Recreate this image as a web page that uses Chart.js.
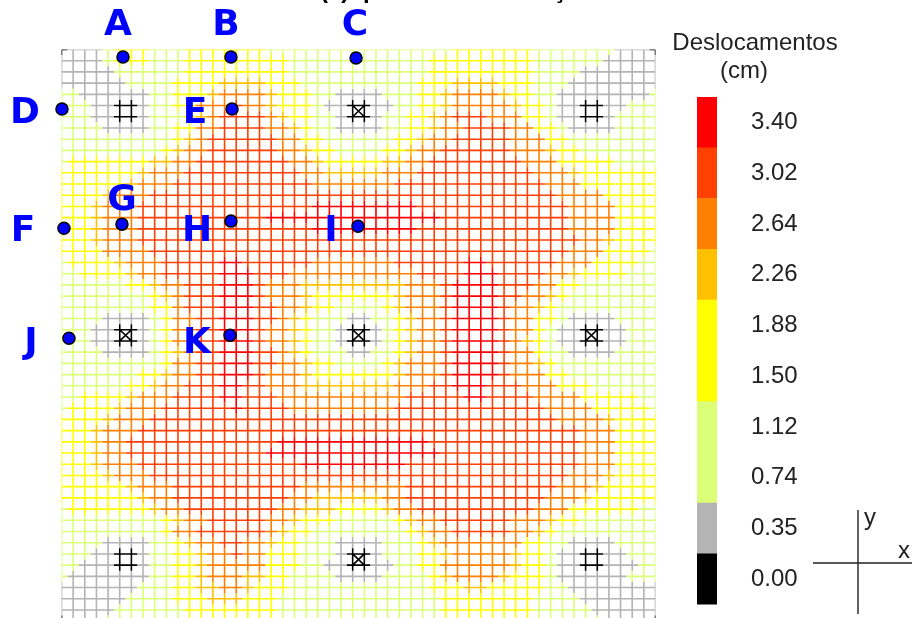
<!DOCTYPE html>
<html lang="pt">
<head>
<meta charset="utf-8">
<title>Deslocamentos</title>
<script src="https://cdn.jsdelivr.net/npm/chart.js@4/dist/chart.umd.js"></script>
<style>
html,body{margin:0;padding:0;background:#fff;overflow:hidden}
#wrap{position:relative;width:912px;height:618px;overflow:hidden}
canvas{position:absolute;top:0;filter:blur(0.35px)}
#mesh{left:0}
#scale{left:660px}
</style>
</head>
<body>
<div id="wrap">
<canvas id="mesh" width="912" height="626"></canvas>
<canvas id="scale" width="252" height="645"></canvas>
</div>
<script>
// Displacement class of every mesh node: each row lists "class:lastColumn" runs.
const levelRows = [
"0:0 1:3 2:4 3:7 2:10 3:17 2:33 3:40 2:47 1:50 0:51",
"1:3 2:4 3:7 2:10 3:19 2:31 3:40 2:46 1:51",
"1:4 2:10 3:19 2:31 3:40 2:44 1:51",
"1:5 2:9 3:13 4:17 3:20 2:30 3:33 4:37 3:40 2:43 1:51",
"2:1 1:7 2:9 3:12 4:13 5:17 4:18 3:21 2:23 1:27 2:30 3:32 4:33 5:37 4:38 3:40 2:42 1:50 2:51",
"2:2 1:4 0:6 1:7 2:9 3:11 5:14 6:15 5:17 4:18 3:21 2:22 1:24 0:26 1:28 2:30 3:32 4:33 5:38 4:39 3:41 2:42 1:44 0:46 1:48 2:51",
"2:2 1:4 0:6 1:7 2:10 3:11 4:12 5:13 6:17 5:18 4:19 3:21 2:23 1:24 0:26 1:27 2:29 3:31 4:32 5:33 6:36 5:39 3:41 2:42 1:44 0:46 1:47 2:51",
"2:3 1:7 2:9 3:11 5:13 6:17 5:19 4:20 3:21 2:23 1:27 2:29 3:31 4:32 5:34 6:38 5:40 3:42 2:43 1:47 2:51",
"2:9 3:10 4:11 5:12 6:18 5:20 3:22 2:28 3:30 4:31 5:33 6:38 5:41 3:43 2:51",
"2:8 3:9 4:10 5:12 6:18 5:20 4:21 3:23 2:27 3:29 4:30 5:32 6:38 5:41 4:42 3:44 2:51",
"2:0 3:7 4:9 5:11 6:19 5:21 4:22 3:27 4:29 5:31 6:39 5:42 3:47 2:51",
"3:6 4:7 5:10 6:20 5:22 4:27 5:30 6:40 5:43 4:44 3:51",
"3:5 4:6 5:9 6:21 5:28 6:41 5:44 3:51",
"3:3 4:4 5:7 6:42 5:46 3:51",
"3:2 4:3 5:6 6:21 7:30 6:43 5:47 3:51",
"3:2 4:3 5:6 6:17 7:32 6:43 5:47 3:51",
"3:2 4:3 5:6 6:21 7:30 6:43 5:47 3:51",
"3:2 4:3 5:6 6:44 5:46 4:47 3:51",
"3:3 5:7 6:43 5:46 3:50 2:51",
"2:0 3:4 4:5 5:8 6:13 7:15 6:21 5:28 6:34 7:36 6:42 5:45 3:49 2:51",
"2:1 3:5 4:6 5:8 6:13 7:16 6:19 5:30 6:34 7:37 6:41 5:43 4:44 3:48 2:51",
"2:5 3:7 4:8 5:10 6:13 7:16 6:17 5:20 4:29 5:32 6:33 7:37 6:40 5:42 3:44 2:51",
"2:7 3:8 4:9 5:10 6:13 7:16 6:17 5:20 4:21 3:28 4:29 5:32 6:33 7:37 6:39 5:41 4:42 3:43 2:51",
"2:7 3:9 5:10 6:13 7:16 6:18 5:20 4:21 3:23 2:27 3:28 4:29 5:32 6:33 7:37 6:38 5:40 4:41 3:42 2:51",
"2:3 1:7 2:8 3:9 5:11 6:13 7:16 6:18 5:19 4:20 3:21 2:24 1:26 2:28 3:29 4:30 5:32 6:33 7:37 6:38 5:40 3:42 2:43 1:47 2:51",
"2:2 1:4 0:6 1:7 2:8 3:9 5:11 6:13 7:16 6:17 5:19 4:20 3:21 2:23 1:24 0:26 1:27 2:28 3:29 4:30 5:32 6:33 7:37 6:38 5:40 3:41 2:42 1:44 0:46 1:48 2:51",
"2:2 1:4 0:6 1:7 2:8 3:9 5:11 6:13 7:16 6:17 5:19 4:20 3:21 2:23 1:24 0:26 1:27 2:28 3:29 4:30 5:32 6:33 7:37 6:38 5:39 4:40 3:41 2:42 1:44 0:46 1:48 2:51",
"2:3 1:7 2:8 3:9 4:10 5:11 6:13 7:16 6:18 5:19 4:20 3:21 2:24 1:26 2:28 3:29 4:30 5:32 6:33 7:37 6:38 5:40 3:41 2:43 1:47 2:51",
"2:8 3:9 5:11 6:13 7:16 6:18 5:20 4:21 3:23 2:27 3:28 4:29 5:32 6:33 7:37 6:38 5:40 4:41 3:42 2:51",
"2:6 3:8 4:9 5:11 6:13 7:16 6:17 5:20 4:21 3:28 4:29 5:32 6:33 7:37 6:38 5:41 3:43 2:51",
"2:5 3:7 4:8 5:10 6:13 7:15 6:17 5:20 4:28 5:31 6:33 7:36 6:39 5:42 3:45 2:51",
"2:1 3:5 4:6 5:9 6:13 7:15 6:18 5:29 6:34 7:36 6:40 5:44 3:49 2:51",
"2:0 3:4 4:5 5:8 6:14 7:15 6:19 5:28 6:41 5:45 3:50 2:51",
"3:3 4:4 5:7 6:42 5:46 4:47 3:51",
"3:2 4:3 5:6 6:44 5:47 3:51",
"3:2 4:3 5:5 6:18 7:31 6:44 5:47 3:51",
"3:2 4:3 5:5 6:17 7:32 6:44 5:47 3:51",
"3:2 4:3 5:6 6:20 7:29 6:44 5:47 3:51",
"3:3 4:4 5:7 6:43 5:46 4:47 3:51",
"3:5 4:6 5:9 6:20 5:29 6:42 5:45 4:46 3:51",
"3:6 4:7 5:9 6:19 5:21 4:27 5:29 6:41 5:44 4:45 3:51",
"2:0 3:7 4:8 5:10 6:18 5:20 4:23 3:27 4:28 5:30 6:40 5:43 3:49 2:51",
"2:8 3:9 4:10 5:12 6:17 5:19 4:20 3:23 2:28 3:29 4:30 5:32 6:38 5:41 4:42 3:44 2:51",
"2:8 3:9 5:11 6:17 5:18 4:19 3:21 2:29 3:30 4:31 5:33 6:38 5:40 4:41 3:42 2:51",
"2:3 1:7 2:9 3:10 4:11 5:13 6:15 5:17 4:18 3:20 2:23 1:27 2:30 3:31 4:32 5:39 3:41 2:43 1:47 2:51",
"2:2 1:4 0:6 1:7 2:9 3:11 4:12 5:14 6:15 5:17 3:20 2:23 1:24 0:26 1:27 2:30 3:32 4:33 5:38 4:39 3:41 2:42 1:44 0:46 1:48 2:51",
"2:1 1:4 0:6 1:7 2:9 3:11 4:12 5:17 3:20 2:22 1:24 0:26 1:28 2:30 3:32 5:38 4:39 3:41 2:42 1:44 0:46 1:49 2:51",
"2:0 1:7 2:9 3:11 4:12 5:15 4:17 3:19 2:23 1:27 2:31 3:32 4:33 5:37 4:38 3:41 2:42 1:48 2:51",
"1:6 2:9 3:11 4:13 5:15 4:16 3:19 2:31 3:34 4:36 3:41 2:43 1:51",
"1:5 2:9 3:12 4:15 3:18 2:32 3:40 2:44 1:51",
"1:4 2:10 3:18 2:32 3:40 2:45 1:51",
"0:0 1:3 2:10 3:18 2:32 3:40 2:46 1:50 0:51"
];
const levelColors = ["#000000","#b4b4b4","#dcff78","#ffff00","#ffc000","#ff8000","#ff4000","#ff0000"];

// Mesh cells [column, row] that hold a crossed black element around a support
const crossedCells = [[25,5],[5,25],[25,25],[45,25],[25,45]];

const legendLabels = ["3.40","3.02","2.64","2.26","1.88","1.50","1.12","0.74","0.35","0.00"];
const legendColors = ["#ff0000","#ff4000","#ff8000","#ffc000","#ffff00","#ffff00","#dcff78","#dcff78","#b4b4b4","#000000"];
const legendTitle = ["Deslocamentos","(cm)"];

const markerNames = ["A","B","C","D","E","F","G","H","I","J","K"];
const markerCols  = [5.28,14.55,25.29,0.04,14.64,0.21,5.19,14.55,25.46,0.64,14.47];
const markerRows  = [0.67,0.67,0.76,5.31,5.31,15.94,15.58,15.31,15.76,25.76,25.49];

// Label placement relative to each marker, in pixels
const labelDx = [-5,-5,-1,-37,-37,-41,0,-34,-27,-38,-33];
const labelDy = [-22,-22,-23,14,14,13,-14,20,15,15,18];

const nCols = 52, nRows = 52, cutRows = 50.76;

const grid = levelRows.map(function (row) {
  const out = [];
  row.split(" ").forEach(function (run) {
    const p = run.split(":").map(Number);
    while (out.length <= p[1]) out.push(p[0]);
  });
  return out;
});

function meshSegments() {
  const byLevel = levelColors.map(function () { return []; });
  function add(level, x0, y0, x1, y1) {
    byLevel[level].push({x:x0,y:y0},{x:x1,y:y1},{x:NaN,y:NaN});
  }
  for (let r = 0; r < nRows; r++) {
    let start = 0;
    for (let c = 1; c <= nCols; c++) {
      if (c === nCols || grid[r][c] !== grid[r][start]) {
        add(grid[r][start], Math.max(start-0.5,0), r, Math.min(c-0.5,nCols-1), r);
        start = c;
      }
    }
  }
  for (let c = 0; c < nCols; c++) {
    let start = 0;
    for (let r = 1; r <= nRows; r++) {
      if (r === nRows || grid[r][c] !== grid[start][c]) {
        add(grid[start][c], c, Math.max(start-0.5,0), c, Math.min(r-0.5,nRows-1));
        start = r;
      }
    }
  }
  crossedCells.forEach(function (cell) {
    add(0, cell[0], cell[1], cell[0]+1, cell[1]+1);
    add(0, cell[0]+1, cell[1], cell[0], cell[1]+1);
  });
  return byLevel;
}

const segs = meshSegments();
const meshSets = levelColors.map(function (color, i) {
  return {
    type:"scatter", showLine:true, data:segs[i], borderColor:color, backgroundColor:color,
    borderWidth:1.6, pointRadius:0, pointHoverRadius:0, spanGaps:false, tension:0,
    borderCapStyle:"butt", order: i===0 ? 1 : 10-i
  };
});
meshSets.push({
  type:"scatter", showLine:false, order:0, clip:false,
  data: markerCols.map(function (x,i) { return {x:x, y:markerRows[i]}; }),
  backgroundColor:"#0000ff", borderColor:"#000000", borderWidth:1.5, pointRadius:6
});

const annotate = {
  id:"annotate",
  afterDatasetsDraw:function (chart) {
    const ctx = chart.ctx, sx = chart.scales.x, sy = chart.scales.y;
    ctx.save();
    ctx.fillStyle = "#0000ff";
    ctx.font = 'bold 36px "DejaVu Sans"';
    ctx.textAlign = "center";
    ctx.textBaseline = "alphabetic";
    markerNames.forEach(function (n,i) {
      ctx.fillText(n, sx.getPixelForValue(markerCols[i])+labelDx[i], sy.getPixelForValue(markerRows[i])+labelDy[i]);
    });
    // reference axes
    ctx.strokeStyle = "#222";
    ctx.lineWidth = 1.4;
    ctx.beginPath();
    ctx.moveTo(858,510); ctx.lineTo(858,614);
    ctx.moveTo(813,563); ctx.lineTo(912,563);
    ctx.stroke();
    ctx.fillStyle = "#222";
    ctx.font = '24px "Liberation Sans"';
    ctx.textAlign = "left";
    ctx.fillText("y", 864, 525);
    ctx.fillText("x", 898, 558);
    // tail of the title cut off by the picture's top edge
    ctx.fillStyle = "#000";
    ctx.font = 'bold 24px "Liberation Sans"';
    ctx.fillText("(c)", 320, -2);
    ctx.fillText("p", 363, -2);
    ctx.fillText("ç", 553, -2);
    ctx.restore();
  }
};

new Chart(document.getElementById("mesh"), {
  data:{datasets:meshSets},
  options:{
    responsive:false, animation:false, events:[],
    layout:{padding:{left:61.5,right:256.5,top:49.5,bottom:0}},
    scales:{
      x:{type:"linear",min:0,max:nCols-1,display:false},
      y:{type:"linear",min:0,max:cutRows,reverse:true,display:false}
    },
    plugins:{legend:{display:false},tooltip:{enabled:false},title:{display:false}}
  },
  plugins:[annotate]
});

const scaleTitle = {
  id:"scaleTitle",
  afterDraw:function (chart) {
    const ctx = chart.ctx;
    ctx.save();
    ctx.fillStyle = "#222";
    ctx.font = '24px "Liberation Sans"';
    ctx.textAlign = "center";
    ctx.fillText(legendTitle[0], 95, 50);
    ctx.fillText(legendTitle[1], 84, 78);
    ctx.restore();
  }
};

new Chart(document.getElementById("scale"), {
  type:"bar",
  data:{
    labels:legendLabels,
    datasets:[{data:legendLabels.map(function(){return 1;}), backgroundColor:legendColors, borderWidth:0,
      barPercentage:1, categoryPercentage:1}]
  },
  options:{
    indexAxis:"y", responsive:false, animation:false, events:[],
    layout:{padding:{left:37,right:0,top:97,bottom:14}},
    scales:{
      x:{type:"linear",min:0,max:1,display:false},
      y:{
        position:"right", type:"category",
        afterFit:function (s) { s.width = 195; },
        grid:{display:false}, border:{display:false},
        ticks:{padding:26,color:"#222",font:{family:'"Liberation Sans"',size:24},autoSkip:false}
      }
    },
    plugins:{legend:{display:false},tooltip:{enabled:false},title:{display:false}}
  },
  plugins:[scaleTitle]
});
</script>
</body>
</html>
